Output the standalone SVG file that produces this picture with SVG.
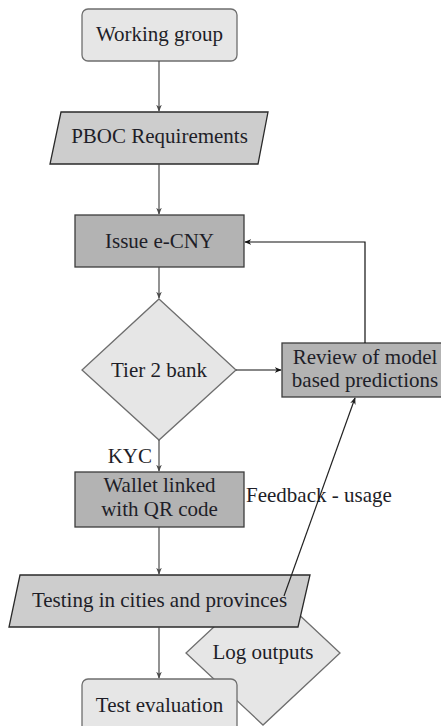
<svg xmlns="http://www.w3.org/2000/svg" width="441" height="726" viewBox="0 0 441 726">
<defs>
<marker id="ah" viewBox="0 0 10 10" refX="9" refY="5" markerWidth="7" markerHeight="7" orient="auto" markerUnits="userSpaceOnUse">
<path d="M0,1 L10,5 L0,9 L3,5 Z" fill="context-stroke"/>
</marker>
<style>
text{font-family:'Liberation Serif',serif;font-size:21px;fill:#1e1e28;text-anchor:middle}
.light{fill:#e6e6e6;stroke:#6e6e6e;stroke-width:1.3}
.mid{fill:#cdcdcd;stroke:#2a2a2a;stroke-width:1.3}
.dark{fill:#b3b3b3;stroke:#3c3c3c;stroke-width:1.3}
.c{fill:none;stroke:#4a4a4a;stroke-width:1.2;marker-end:url(#ah)}
</style>
</defs>
<rect width="441" height="726" fill="#ffffff"/>
<g id="working-group">
<rect class="light" x="82" y="9" width="155" height="52" rx="6"/>
<text x="159.5" y="41">Working group</text>
</g>
<g id="pboc">
<polygon class="mid" points="61,112 268,112 258,164 50,164"/>
<text x="159.5" y="143">PBOC Requirements</text>
</g>
<g id="issue">
<rect class="dark" x="75" y="215" width="169" height="52"/>
<text x="159.5" y="248">Issue e-CNY</text>
</g>
<g id="tier2">
<polygon class="light" points="159,299 236,370 159,440 82,370"/>
<text x="159" y="377">Tier 2 bank</text>
</g>
<g id="review">
<rect class="dark" x="282" y="343" width="166" height="54"/>
<text x="365" y="364">Review of model</text>
<text x="365" y="387">based predictions</text>
</g>
<g id="wallet">
<rect class="dark" x="75" y="472" width="169" height="55"/>
<text x="159.5" y="492">Wallet linked</text>
<text x="159.5" y="516">with QR code</text>
</g>
<g id="log-outputs">
<polygon class="light" points="263,581 340,653 263,725 186,653"/>
<text x="263" y="659">Log outputs</text>
</g>
<g id="testing">
<polygon class="mid" points="20,575 310,575 298,627 9,627"/>
<text x="159.5" y="607">Testing in cities and provinces</text>
</g>
<g id="test-eval">
<rect class="light" x="82" y="679" width="155" height="60" rx="6"/>
<text x="159.5" y="712">Test evaluation</text>
</g>
<g id="connectors">
<path class="c" d="M159,61 V111"/>
<path class="c" d="M159,164 V214"/>
<path class="c" d="M159,267 V298"/>
<path class="c" d="M159,440 V471"/>
<path class="c" d="M159,527 V574"/>
<path class="c" d="M159,627 V678"/>
<path class="c" style="stroke:#111" d="M236,370 H281"/>
<path class="c" style="stroke:#111" d="M365,343 V242 H245"/>
<path class="c" style="stroke:#222" d="M284,596 L355,398"/>
<text x="246" y="502" style="text-anchor:start">Feedback - usage</text>
<text x="152" y="463" style="text-anchor:end">KYC</text>
</g>
</svg>
